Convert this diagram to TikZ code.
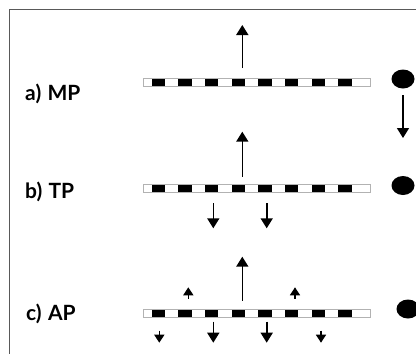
\documentclass[tikz,border=0pt]{standalone}
\usepackage{fontspec}
\setmainfont{Lato}
\usetikzlibrary{arrows.meta}
\begin{document}
\begin{tikzpicture}[x=1pt,y=-1pt,
  lbl/.style={anchor=base west,inner sep=0pt,font=\fontsize{21}{21}\selectfont\bfseries},
  arr/.style={line width=1.6pt,-{Triangle[length=10pt,width=12pt]}},
  sarr/.style={line width=1.6pt,-{Triangle[length=8pt,width=10pt]}},
  dotc/.style={fill=black,draw=none}]
\useasboundingbox (0,0) rectangle (416,354);
\draw[gray!70!black,line width=1.5pt] (9.5,360) |- (425,9.5);
% labels
\node[lbl] (la) at (25,100) {a)\hspace{0.3em}MP};
\node[lbl] (lb) at (25,198) {b)\hspace{0.3em}TP};
\node[lbl] (lc) at (26,320) {c)\hspace{0.3em}AP};
% strips
\foreach \y [count=\r] in {78,184.5,309}{
  \draw[gray!60,line width=0.8pt,fill=white] (143.5,\y) rectangle (370,\y+8);
  \foreach \k in {0,...,7}{
    \fill[black] (151.7+\k*26.67,\y+0.5) rectangle (165+\k*26.67,\y+7.5);
  }
}
% row a
\coordinate (a0) at (242.3,68);
\coordinate (a1) at (242.3,25);
\draw[arr] (a0) -- (a1);
\fill[dotc] (403,79) ellipse [x radius=11.5,y radius=9.5];
\coordinate (d0) at (403,95);
\coordinate (d1) at (403,138);
\draw[arr] (d0) -- (d1);
% row b
\coordinate (b0) at (242.3,176.7);
\coordinate (b1) at (242.3,131.7);
\draw[arr] (b0) -- (b1);
\coordinate (b2) at (213.3,203.3);
\coordinate (b3) at (213.3,228.3);
\draw[arr] (b2) -- (b3);
\coordinate (b4) at (266.7,203.3);
\coordinate (b5) at (266.7,228.3);
\draw[arr] (b4) -- (b5);
\fill[dotc] (403,185.5) ellipse [x radius=11.5,y radius=9.5];
% row c
\coordinate (c0) at (242.3,300.7);
\coordinate (c1) at (242.3,256.7);
\draw[arr] (c0) -- (c1);
\coordinate (c2) at (188.3,298.5);
\coordinate (c3) at (188.3,287.3);
\draw[sarr] (c2) -- (c3);
\coordinate (c4) at (295,298.5);
\coordinate (c5) at (295,287.3);
\draw[sarr] (c4) -- (c5);
\coordinate (c6) at (213.3,321.7);
\coordinate (c7) at (213.3,342.7);
\draw[arr] (c6) -- (c7);
\coordinate (c8) at (266.7,321.7);
\coordinate (c9) at (266.7,342.7);
\draw[arr] (c8) -- (c9);
\coordinate (c10) at (159.3,330.5);
\coordinate (c11) at (159.3,342.7);
\draw[sarr] (c10) -- (c11);
\coordinate (c12) at (321,330.5);
\coordinate (c13) at (321,342.7);
\draw[sarr] (c12) -- (c13);
\fill[dotc] (408,309) ellipse [x radius=11.5,y radius=9.5];
\end{tikzpicture}
\end{document}
